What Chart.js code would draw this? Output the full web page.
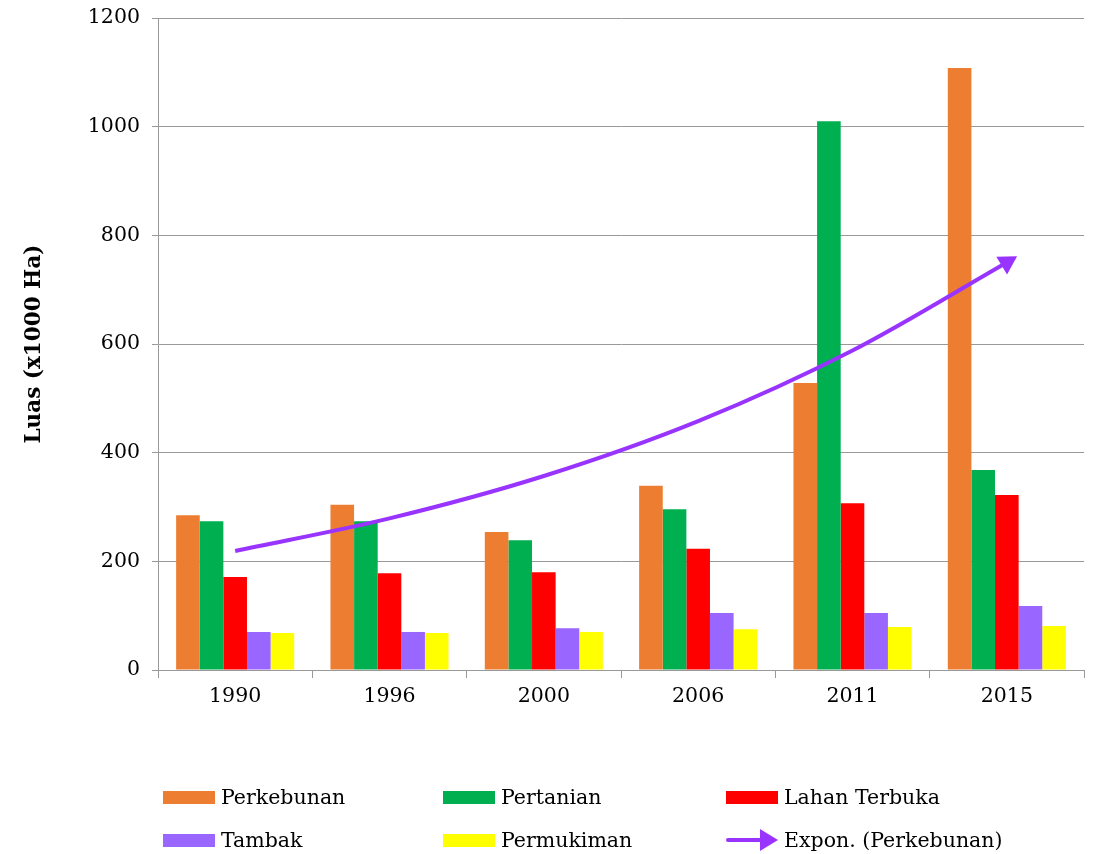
<!DOCTYPE html>
<html>
<head>
<meta charset="utf-8">
<script src="https://cdn.jsdelivr.net/npm/chart.js@4"></script>
<style>
  body { margin: 0; background: #fff; }
  #wrap { position: relative; width: 1096px; height: 854px; }
  .legend { position: absolute; left: 0; top: 0; width: 1096px; height: 854px; font-family: "DejaVu Serif", serif; font-size: 20.5px; color: #000; }
  .item { position: absolute; display: flex; align-items: center; white-space: nowrap; }
  .sw { width: 52px; height: 13px; margin-right: 6px; }
</style>
</head>
<body>
<div id="wrap">
  <canvas id="chart" width="1096" height="854"></canvas>
  <div class="legend" id="legend"></div>
</div>
<script>
const years = ['1990', '1996', '2000', '2006', '2011', '2015'];
const perkebunan = [285, 304, 254, 339, 528, 1108];
const pertanian = [274, 274, 239, 296, 1010, 368];
const lahanTerbuka = [171, 178, 180, 223, 307, 322];
const tambak = [70, 70, 77, 105, 105, 118];
const permukiman = [68, 68, 70, 75, 79, 81];
// trendline
const exponPerkebunan = [219, 279, 357, 458, 588, 750];
const yTicks = [0, 200, 400, 600, 800, 1000, 1200];

const font = "'DejaVu Serif', serif";
const purple = '#9933FF';

function bar(label, data, color) {
  return {
    type: 'bar', label: label, data: data,
    backgroundColor: color, borderWidth: 0,
    barPercentage: 1, categoryPercentage: 0.765, order: 2
  };
}

const ctx = document.getElementById('chart').getContext('2d');
const last = years.length - 1;

new Chart(ctx, {
  data: {
    labels: years,
    datasets: [
      bar('Perkebunan', perkebunan, '#ED7D31'),
      bar('Pertanian', pertanian, '#00B050'),
      bar('Lahan Terbuka', lahanTerbuka, '#FF0000'),
      bar('Tambak', tambak, '#9966FF'),
      bar('Permukiman', permukiman, '#FFFF00'),
      {
        type: 'line', label: 'Expon. (Perkebunan)', data: exponPerkebunan,
        borderColor: purple, backgroundColor: purple, borderWidth: 4,
        cubicInterpolationMode: 'monotone', order: 1,
        pointRadius: exponPerkebunan.map((v, i) => i === last ? 12 : 0),
        pointStyle: 'triangle',
        pointRotation: 59,
        pointBorderWidth: 0
      }
    ]
  },
  options: {
    responsive: false,
    animation: false,
    layout: { padding: { top: 18, right: 11, left: 0, bottom: 0 } },
    plugins: { legend: { display: false }, tooltip: { enabled: false } },
    scales: {
      x: {
        grid: { drawOnChartArea: false, color: '#999', tickLength: 8, offset: true },
        border: { color: '#999' },
        ticks: { color: '#000', font: { family: font, size: 20.5 }, padding: 6 },
        afterFit: s => { s.height = 184; }
      },
      y: {
        min: 0, max: 1200,
        afterBuildTicks: s => { s.ticks = yTicks.map(v => ({ value: v })); },
        grid: { color: '#999', tickLength: 6 },
        border: { color: '#999' },
        ticks: { color: '#000', font: { family: font, size: 20.5 }, padding: 12, callback: v => String(v) },
        title: {
          display: true, text: 'Luas (x1000 Ha)', color: '#000',
          font: { family: font, size: 21.5, weight: 'bold' }, padding: { top: 22, bottom: 8 }
        },
        afterFit: s => { s.width = 158; s.paddingTop = 0; s.paddingBottom = 0; }
      }
    }
  }
});

// legend in three columns, two rows
const legendItems = [
  { label: 'Perkebunan', color: '#ED7D31', x: 163, y: 797 },
  { label: 'Pertanian', color: '#00B050', x: 443, y: 797 },
  { label: 'Lahan Terbuka', color: '#FF0000', x: 726, y: 797 },
  { label: 'Tambak', color: '#9966FF', x: 163, y: 840 },
  { label: 'Permukiman', color: '#FFFF00', x: 443, y: 840 },
  { label: 'Expon. (Perkebunan)', color: purple, x: 726, y: 840, arrow: true }
];
const legend = document.getElementById('legend');
legendItems.forEach(it => {
  const el = document.createElement('div');
  el.className = 'item';
  el.style.left = it.x + 'px';
  el.style.top = (it.y - 14) + 'px';
  el.style.height = '28px';
  let mark;
  if (it.arrow) {
    mark = '<svg width="52" height="28" style="margin-right:6px"><line x1="2" y1="14" x2="38" y2="14" stroke="' + it.color +
      '" stroke-width="4" stroke-linecap="round"/><polygon points="34,3 52,14 34,25" fill="' + it.color + '"/></svg>';
  } else {
    mark = '<div class="sw" style="background:' + it.color + '"></div>';
  }
  el.innerHTML = mark + '<span>' + it.label + '</span>';
  legend.appendChild(el);
});
</script>
</body>
</html>
